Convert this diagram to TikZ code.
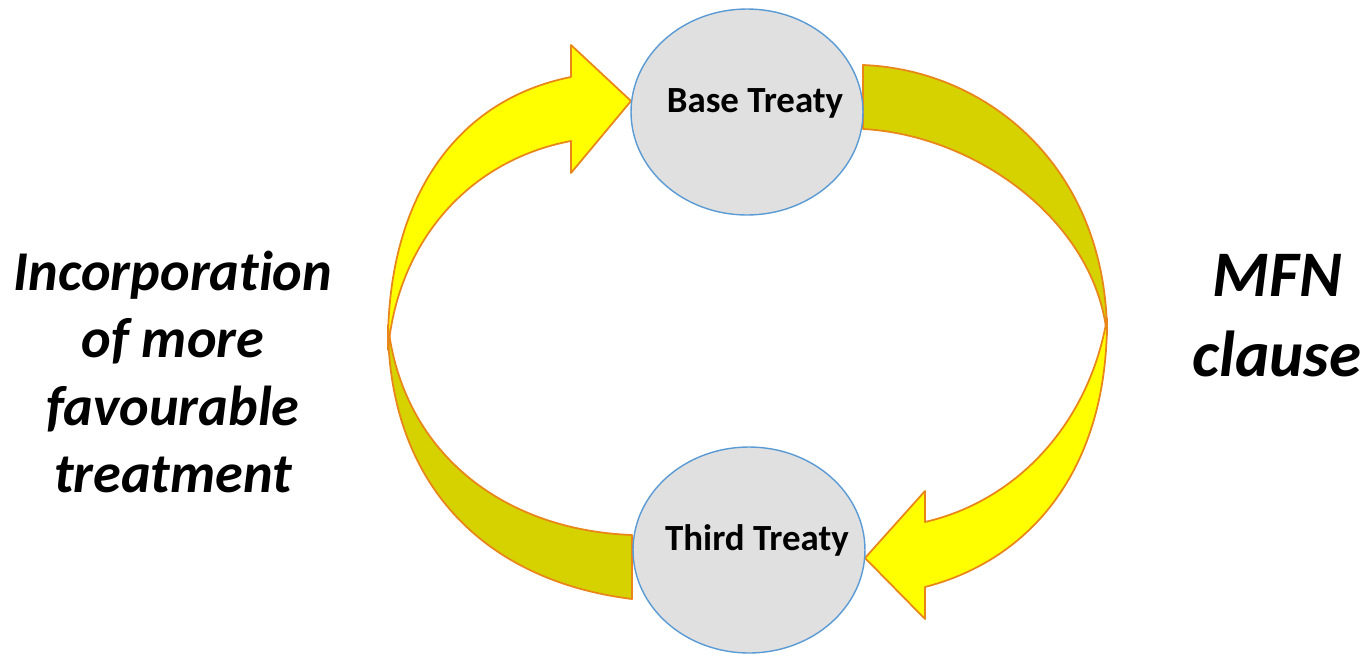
\documentclass[tikz,border=0pt]{standalone}
\usepackage{fontspec}
\setmainfont{Carlito}[RawFeature={-liga}]
\usepackage{tikz}
\usetikzlibrary{shapes.geometric}
\definecolor{arrowYellow}{HTML}{FFFF00}
\definecolor{arrowOlive}{HTML}{D6D200}
\definecolor{arrowEdge}{HTML}{E8861A}
\definecolor{treatyFill}{HTML}{E0E0E0}
\definecolor{treatyEdge}{HTML}{5B9BD5}

\begin{document}
\begin{tikzpicture}[x=0.02cm, y=-0.02cm,
  treaty/.style={ellipse, draw=treatyEdge, line width=0.8pt, fill=treatyFill, minimum width=4.64cm, minimum height=4.12cm, inner sep=0pt},
  treatylabel/.style={inner sep=0pt, xshift=0.16cm, text height=0.6em, text depth=0.6em, font=\fontsize{21}{25}\selectfont\bfseries},
  front/.style={fill=arrowYellow, draw=arrowEdge, line width=1pt, line join=round},
  back/.style={fill=arrowOlive, draw=arrowEdge, line width=1pt, line join=round},
  sidetext/.style={align=center, inner sep=0pt}]

\useasboundingbox (0,0) rectangle (1370,656);

% back halves of the curved arrows
\draw [back] (388,325) .. controls (388,480) and (480,580) .. (632,599) -- (632,535) .. controls (500,530) and (402,450) .. (388,325) -- cycle;
\draw [back] (863,65) .. controls (990,70) and (1107,170) .. (1107,335) .. controls (1095,220) and (975,135) .. (863,129) -- cycle;

% front halves with heads
\draw [front] (388,350) .. controls (386,200) and (455,100) .. (571,77) -- (571,45) -- (631,101) -- (571,173) -- (571,141) .. controls (470,160) and (398,240) .. (388,350) -- cycle;
\draw [front] (1107,318) .. controls (1108,470) and (1030,560) .. (925,587) -- (925,619) -- (865,558) -- (925,491) -- (925,522) .. controls (1020,500) and (1090,420) .. (1107,318) -- cycle;

\node [treaty, label={[treatylabel]center:Base Treaty}] (base) at (747,112) {};
\node [treaty, label={[treatylabel]center:Third Treaty}] (third) at (749,550) {};

\node [sidetext, font=\fontsize{32}{38.5}\selectfont\bfseries\itshape] (incorp) at (173,372) {Incorporation\\of more\\favourable\\treatment};
\node [sidetext, font=\fontsize{37}{45.4}\selectfont\bfseries\itshape] (mfn) at (1277,316) {MFN\\clause};

\end{tikzpicture}
\end{document}
